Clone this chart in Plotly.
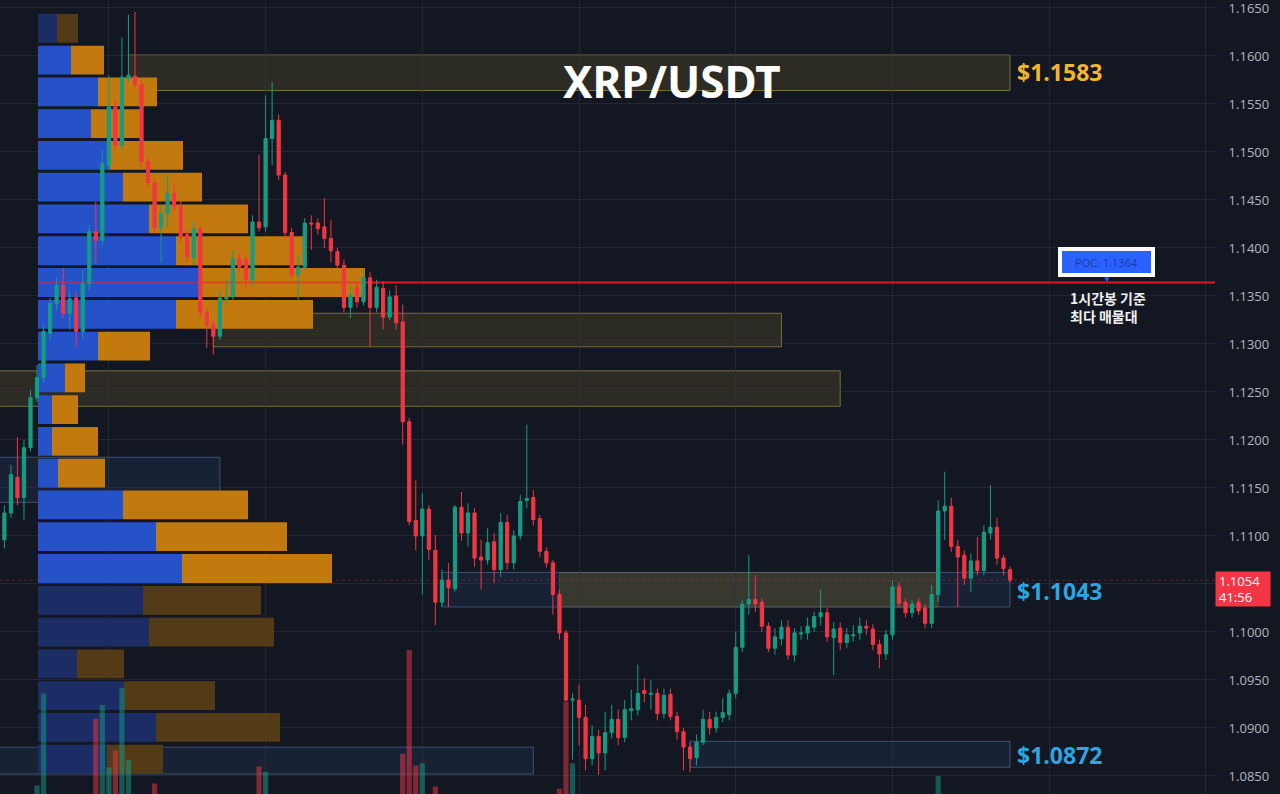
import plotly.graph_objects as go

# ---------------- data (1h candles, XRP/USDT) ----------------
OPEN = [1.1151, 1.1096, 1.1124, 1.1161, 1.1140, 1.1192, 1.1244, 1.1265, 1.1311, 1.1342, 1.1361, 1.1332,
        1.1348, 1.1313, 1.1363, 1.1417, 1.1408, 1.1486, 1.1547, 1.1507, 1.1577, 1.1579, 1.1570, 1.1490,
        1.1468, 1.1421, 1.1436, 1.1457, 1.1443, 1.1414, 1.1390, 1.1420, 1.1333, 1.1320, 1.1308, 1.1347,
        1.1349, 1.1389, 1.1388, 1.1367, 1.1427, 1.1422, 1.1514, 1.1533, 1.1476, 1.1416, 1.1372, 1.1380,
        1.1426, 1.1426, 1.1422, 1.1410, 1.1396, 1.1382, 1.1338, 1.1359, 1.1344, 1.1369, 1.1338, 1.1358,
        1.1328, 1.1350, 1.1323, 1.1219, 1.1116, 1.1100, 1.1128, 1.1085, 1.1031, 1.1054, 1.1045, 1.1130,
        1.1103, 1.1124, 1.1078, 1.1075, 1.1094, 1.1065, 1.1114, 1.1072, 1.1100, 1.1137, 1.1140, 1.1118,
        1.1084, 1.1072, 1.1039, 1.0999, 1.0929, 1.0929, 1.0911, 1.0868, 1.0891, 1.0874, 1.0895, 1.0909,
        1.0890, 1.0918, 1.0919, 1.0939, 1.0935, 1.0936, 1.0915, 1.0935, 1.0912, 1.0896, 1.0880, 1.0869,
        1.0885, 1.0909, 1.0900, 1.0911, 1.0914, 1.0936, 1.0984, 1.1029, 1.1034, 1.1031, 1.1006, 1.0983,
        1.0993, 1.1005, 1.0976, 1.0998, 1.0999, 1.1005, 1.1016, 1.1020, 1.0994, 1.1004, 1.0989, 1.0996,
        1.0999, 1.1006, 1.1003, 1.0987, 1.0977, 1.0997, 1.1047, 1.1031, 1.1020, 1.1031, 1.1025, 1.1009,
        1.1039, 1.1126, 1.1131, 1.1089, 1.1080, 1.1056, 1.1074, 1.1064, 1.1103, 1.1109, 1.1077, 1.1065]
HIGH = [1.1158, 1.1132, 1.1174, 1.1203, 1.1200, 1.1252, 1.1278, 1.1320, 1.1348, 1.1369, 1.1379, 1.1356,
        1.1354, 1.1377, 1.1424, 1.1448, 1.1502, 1.1580, 1.1554, 1.1619, 1.1643, 1.1646, 1.1575, 1.1494,
        1.1473, 1.1445, 1.1476, 1.1466, 1.1450, 1.1419, 1.1427, 1.1424, 1.1337, 1.1325, 1.1356, 1.1367,
        1.1398, 1.1395, 1.1393, 1.1434, 1.1497, 1.1559, 1.1573, 1.1539, 1.1479, 1.1421, 1.1393, 1.1431,
        1.1434, 1.1431, 1.1452, 1.1429, 1.1400, 1.1388, 1.1361, 1.1365, 1.1377, 1.1375, 1.1367, 1.1365,
        1.1356, 1.1361, 1.1341, 1.1223, 1.1158, 1.1145, 1.1132, 1.1101, 1.1065, 1.1072, 1.1132, 1.1146,
        1.1134, 1.1129, 1.1096, 1.1108, 1.1103, 1.1124, 1.1122, 1.1106, 1.1143, 1.1216, 1.1148, 1.1122,
        1.1088, 1.1075, 1.1044, 1.1002, 1.0936, 1.0945, 1.0924, 1.0903, 1.0898, 1.0917, 1.0924, 1.0919,
        1.0929, 1.0940, 1.0966, 1.0952, 1.0950, 1.0941, 1.0941, 1.0941, 1.0917, 1.0900, 1.0885, 1.0893,
        1.0919, 1.0917, 1.0917, 1.0931, 1.0940, 1.1000, 1.1033, 1.1080, 1.1059, 1.1035, 1.1010, 1.1004,
        1.1012, 1.1012, 1.1004, 1.1006, 1.1015, 1.1021, 1.1044, 1.1025, 1.1010, 1.1010, 1.1004, 1.1007,
        1.1015, 1.1012, 1.1008, 1.0992, 1.1002, 1.1054, 1.1052, 1.1035, 1.1033, 1.1035, 1.1029, 1.1049,
        1.1137, 1.1167, 1.1140, 1.1096, 1.1085, 1.1082, 1.1099, 1.1111, 1.1153, 1.1119, 1.1080, 1.1068]
LOW = [1.1091, 1.1087, 1.1119, 1.1132, 1.1117, 1.1188, 1.1240, 1.1260, 1.1304, 1.1335, 1.1327, 1.1315,
       1.1297, 1.1306, 1.1356, 1.1384, 1.1403, 1.1481, 1.1502, 1.1502, 1.1573, 1.1565, 1.1483, 1.1463,
       1.1417, 1.1385, 1.1422, 1.1438, 1.1406, 1.1385, 1.1382, 1.1327, 1.1296, 1.1289, 1.1304, 1.1341,
       1.1346, 1.1375, 1.1356, 1.1361, 1.1417, 1.1417, 1.1486, 1.1471, 1.1410, 1.1367, 1.1346, 1.1377,
       1.1398, 1.1414, 1.1400, 1.1385, 1.1379, 1.1333, 1.1327, 1.1338, 1.1340, 1.1297, 1.1333, 1.1315,
       1.1325, 1.1315, 1.1195, 1.1111, 1.1085, 1.1039, 1.1075, 1.1007, 1.1026, 1.1026, 1.1042, 1.1095,
       1.1089, 1.1068, 1.1044, 1.1070, 1.1051, 1.1057, 1.1065, 1.1065, 1.1096, 1.1129, 1.1111, 1.1078,
       1.1067, 1.1018, 1.0992, 1.0927, 1.0867, 1.0882, 1.0856, 1.0861, 1.0851, 1.0856, 1.0889, 1.0882,
       1.0885, 1.0908, 1.0913, 1.0927, 1.0919, 1.0908, 1.0910, 1.0908, 1.0888, 1.0856, 1.0854, 1.0861,
       1.0882, 1.0893, 1.0895, 1.0906, 1.0908, 1.0931, 1.0979, 1.1018, 1.1021, 1.1000, 1.0979, 1.0976,
       1.0986, 1.0971, 1.0969, 1.0992, 1.0992, 1.1000, 1.1007, 1.0990, 1.0955, 1.0981, 1.0983, 1.0990,
       1.0992, 1.0997, 1.0981, 1.0962, 1.0971, 1.0992, 1.1025, 1.1015, 1.1015, 1.1018, 1.1004, 1.1004,
       1.1031, 1.1096, 1.1083, 1.1026, 1.1049, 1.1042, 1.1059, 1.1059, 1.1096, 1.1070, 1.1059, 1.1051]
CLOSE = [1.1096, 1.1124, 1.1164, 1.1140, 1.1192, 1.1244, 1.1265, 1.1313, 1.1342, 1.1361, 1.1332, 1.1347,
         1.1313, 1.1363, 1.1417, 1.1408, 1.1488, 1.1547, 1.1507, 1.1578, 1.1580, 1.1570, 1.1490, 1.1468,
         1.1421, 1.1436, 1.1457, 1.1443, 1.1411, 1.1391, 1.1420, 1.1333, 1.1320, 1.1308, 1.1348, 1.1349,
         1.1389, 1.1380, 1.1367, 1.1427, 1.1421, 1.1514, 1.1533, 1.1476, 1.1416, 1.1372, 1.1380, 1.1426,
         1.1425, 1.1420, 1.1410, 1.1397, 1.1382, 1.1338, 1.1351, 1.1344, 1.1369, 1.1338, 1.1359, 1.1328,
         1.1349, 1.1322, 1.1219, 1.1115, 1.1100, 1.1128, 1.1086, 1.1031, 1.1054, 1.1046, 1.1130, 1.1103,
         1.1124, 1.1077, 1.1075, 1.1093, 1.1065, 1.1114, 1.1072, 1.1100, 1.1136, 1.1139, 1.1117, 1.1084,
         1.1072, 1.1039, 1.0999, 1.0929, 1.0930, 1.0911, 1.0868, 1.0891, 1.0874, 1.0895, 1.0909, 1.0890,
         1.0919, 1.0920, 1.0936, 1.0936, 1.0936, 1.0915, 1.0934, 1.0912, 1.0896, 1.0880, 1.0868, 1.0885,
         1.0909, 1.0900, 1.0911, 1.0916, 1.0936, 1.0984, 1.1029, 1.1034, 1.1029, 1.1006, 1.0983, 1.0995,
         1.1005, 1.0976, 1.0999, 1.0999, 1.1006, 1.1016, 1.1020, 1.0995, 1.1003, 1.0989, 1.0997, 1.0997,
         1.1006, 1.1004, 1.0987, 1.0977, 1.0997, 1.1047, 1.1030, 1.1020, 1.1029, 1.1022, 1.1009, 1.1039,
         1.1126, 1.1131, 1.1089, 1.1078, 1.1056, 1.1074, 1.1064, 1.1104, 1.1109, 1.1077, 1.1066, 1.1054]
VOLUME = [14, 11, 13, 9, 15, 17, 25.8, 34.5, 19, 16, 18, 12,
          15, 20, 21, 32.1, 33.4, 27.5, 29.1, 35.0, 28.2, 23, 22, 19,
          26.0, 17, 14, 12, 16, 15, 13, 21, 18, 20, 17, 10,
          14, 9, 12, 16, 27.6, 27.1, 22, 20, 21, 18, 8, 15,
          9, 10, 12, 13, 11, 19, 12, 11, 14, 13, 9, 12,
          10, 11, 28.8, 38.6, 27.7, 27.9, 24, 25.7, 14, 11, 22, 16,
          12, 18, 9, 11, 14, 17, 15, 12, 16, 13, 12, 15,
          11, 19, 25.5, 33.7, 27.9, 21, 23, 17, 15, 13, 11, 12,
          14, 9, 13, 8, 7, 11, 10, 9, 12, 14, 15, 13,
          12, 9, 8, 7, 11, 19, 22, 16, 10, 13, 14, 9,
          8, 12, 11, 6, 7, 9, 10, 12, 13, 11, 8, 6,
          8, 7, 9, 12, 11, 20, 13, 10, 8, 9, 11, 14,
          26.7, 16, 19, 14, 13, 11, 9, 15, 13, 14, 10, 9]
COUNTDOWN = "41:56"

# volume profile (price rows, buy / sell volume)
PROFILE_PRICE = [1.16288, 1.15957, 1.15626, 1.15295, 1.14964, 1.14633, 1.14302, 1.13971,
                 1.13640, 1.13309, 1.12978, 1.12647, 1.12316, 1.11985, 1.11654, 1.11323,
                 1.10992, 1.10661, 1.10330, 1.09999, 1.09668, 1.09337, 1.09006, 1.08675]
PROFILE_BUY = [1.9, 3.3, 6.0, 5.3, 7.2, 8.5, 11.1, 13.8, 16.2, 13.8, 6.0, 2.7,
               1.4, 1.4, 2.0, 8.5, 11.8, 14.4, 10.5, 11.1, 3.9, 8.6, 11.8, 6.9]
PROFILE_SELL = [2.1, 3.3, 5.9, 5.2, 7.3, 7.9, 9.9, 12.9, 16.5, 13.7, 5.2, 2.0,
                2.6, 4.6, 4.7, 12.5, 13.1, 15.0, 11.8, 12.5, 4.7, 9.1, 12.4, 5.6]
IN_VALUE_AREA = [False] + [True] * 17 + [False] * 6
POC_PRICE = 1.1364

# zones: start candle, end candle, top price, bottom price, kind
ZONE_START = [20, 33, -8, -8, -8, 68, 86, 106]
ZONE_END = [155, 120, 129, 34, 82, 155, 144, 155]
ZONE_TOP = [1.1601, 1.1332, 1.1272, 1.1182, 1.0880, 1.1062, 1.1062, 1.0886]
ZONE_BOTTOM = [1.1564, 1.1297, 1.1235, 1.1135, 1.0852, 1.1026, 1.1026, 1.0859]
ZONE_KIND = ["supply", "supply", "supply", "demand", "demand", "demand", "supply2", "demand"]

LEVEL_TEXT = ["$1.1583", "$1.1043", "$1.0872"]
LEVEL_PRICE = [1.1583, 1.1043, 1.0872]
LEVEL_KIND = ["supply", "demand", "demand"]

PRICE_TICKS = [1.0850, 1.0900, 1.0950, 1.1000, 1.1050, 1.1100, 1.1150, 1.1200, 1.1250,
               1.1300, 1.1350, 1.1400, 1.1450, 1.1500, 1.1550, 1.1600, 1.1650]

# ---------------- styling ----------------
BG = "#131722"
GRID = "rgba(48,53,66,0.55)"
UP = "#159d84"
DOWN = "#f23645"
idx = list(range(len(OPEN)))
LAST = CLOSE[-1]

fig = go.Figure()

# volume profile on main subplot (x = volume, y = price)
buy_col = ["#2652c9" if v else "#1c2d66" for v in IN_VALUE_AREA]
sell_col = ["#c27a0e" if v else "#533b18" for v in IN_VALUE_AREA]
fig.add_trace(go.Bar(x=PROFILE_BUY, y=PROFILE_PRICE, orientation="h", width=0.0030,
                     marker=dict(color=buy_col, line=dict(width=0)), xaxis="x", yaxis="y",
                     hoverinfo="skip"))
fig.add_trace(go.Bar(x=PROFILE_SELL, y=PROFILE_PRICE, base=PROFILE_BUY, orientation="h", width=0.0030,
                     marker=dict(color=sell_col, line=dict(width=0)), xaxis="x", yaxis="y",
                     hoverinfo="skip"))
poc_row = PROFILE_PRICE.index(POC_PRICE)
poc_len = PROFILE_BUY[poc_row] + PROFILE_SELL[poc_row]
fig.add_trace(go.Scatter(x=[0, poc_len], y=[POC_PRICE, POC_PRICE], mode="lines",
                         line=dict(color="rgba(235,30,40,0.55)", width=2), xaxis="x", yaxis="y",
                         hoverinfo="skip"))
fig.add_trace(go.Scatter(x=[poc_len, 1000], y=[POC_PRICE, POC_PRICE], mode="lines",
                         line=dict(color="#e3141d", width=2), xaxis="x", yaxis="y",
                         hoverinfo="skip"))

# candles
fig.add_trace(go.Candlestick(x=idx, open=OPEN, high=HIGH, low=LOW, close=CLOSE,
                             xaxis="x2", yaxis="y", whiskerwidth=0,
                             increasing=dict(line=dict(color=UP, width=1), fillcolor=UP),
                             decreasing=dict(line=dict(color=DOWN, width=1), fillcolor=DOWN),
                             hoverinfo="skip"))

# volume
vol_col = ["rgba(21,157,132,0.5)" if c >= o else "rgba(242,54,69,0.5)" for o, c in zip(OPEN, CLOSE)]
fig.add_trace(go.Bar(x=idx, y=VOLUME, width=0.8, marker=dict(color=vol_col, line=dict(width=0)),
                     xaxis="x2", yaxis="y2", hoverinfo="skip"))

# zones
ZONE_STYLE = {
    "supply": ("rgba(190,165,60,0.15)", "rgba(190,170,80,0.55)"),
    "supply2": ("rgba(120,100,40,0.85)", "rgba(190,170,80,0.55)"),
    "demand": ("rgba(70,110,180,0.13)", "rgba(95,125,175,0.55)"),
}
shapes = []
for s, e, t, b, k in zip(ZONE_START, ZONE_END, ZONE_TOP, ZONE_BOTTOM, ZONE_KIND):
    fc, lc = ZONE_STYLE[k]
    shapes.append(dict(type="rect", xref="x2", yref="y", x0=s, x1=e, y0=b, y1=t,
                       fillcolor=fc, line=dict(color=lc, width=1), layer="below",
                       opacity=0.4 if k == "supply2" else 1))
shapes.append(dict(type="line", xref="paper", yref="y", x0=0, x1=1, y0=LAST, y1=LAST,
                   line=dict(color="rgba(242,54,69,0.35)", width=1, dash="dot"), layer="below"))

annotations = []
annotations.append(dict(text="<b>XRP/USDT</b>", xref="paper", yref="paper", x=0.553, y=0.898,
                        xanchor="center", yanchor="middle", showarrow=False,
                        font=dict(size=44, color="#ffffff", family="Noto Sans")))
for txt, p, k in zip(LEVEL_TEXT, LEVEL_PRICE, LEVEL_KIND):
    annotations.append(dict(text="<b>%s</b>" % txt, xref="x2", yref="y", x=len(OPEN) - 1, y=p,
                            xanchor="left", yanchor="middle", xshift=5, showarrow=False,
                            font=dict(size=23, family="Open Sans",
                                      color="#f5b52c" if k == "supply" else "#2aa6e0")))
annotations.append(dict(text="POC: %.4f" % POC_PRICE, xref="paper", yref="y", x=0.911, y=POC_PRICE,
                        xanchor="center", yanchor="bottom", yshift=6, showarrow=False, bgcolor="#2962ff",
                        bordercolor="#ffffff", borderwidth=4, borderpad=2, width=85, height=18,
                        font=dict(size=11, color="#1b3aa0", family="Open Sans")))
annotations.append(dict(text="▼", xref="paper", yref="y", x=0.911, y=POC_PRICE, xanchor="center",
                        yanchor="bottom", yshift=-3, showarrow=False, font=dict(size=8, color="#2962ff")))
annotations.append(dict(text="<b>1시간봉 기준<br>최다 매물대</b>", xref="paper", yref="y", x=0.879, y=POC_PRICE,
                        xanchor="left", yanchor="top", yshift=-3, align="left", showarrow=False,
                        font=dict(size=14, color="#f0f0f0", family="Noto Sans CJK KR")))
annotations.append(dict(text="%.4f<br>%s" % (LAST, COUNTDOWN), xref="paper", yref="y", x=1.0, y=LAST,
                        xanchor="left", yanchor="top", yshift=9, align="left", showarrow=False,
                        bgcolor=DOWN, borderpad=3, width=48, height=28,
                        font=dict(size=13, color="#ffffff", family="Open Sans")))

# the tick under the live price tag is covered in the reference
tick_text = ["" if abs(t - LAST) < 0.0015 else "%.4f" % t for t in PRICE_TICKS]

fig.update_layout(
    width=1280, height=794,
    margin=dict(l=0, r=65, t=0, b=0),
    paper_bgcolor=BG, plot_bgcolor=BG,
    showlegend=False, hovermode=False, barmode="overlay",
    xaxis=dict(domain=[0, 1], range=[-3.8, 117.7], visible=False, fixedrange=True),
    xaxis2=dict(overlaying="x", anchor="y", range=[0.33, 186.39], showticklabels=False,
                showgrid=True, gridcolor=GRID, gridwidth=1, tickvals=list(range(17, 190, 24)),
                zeroline=False, showline=False, ticks="", rangeslider=dict(visible=False)),
    yaxis=dict(side="right", anchor="x", range=[1.08312, 1.16583], tickvals=PRICE_TICKS,
               ticktext=tick_text, showgrid=True, gridcolor=GRID, zeroline=False, showline=False,
               ticks="outside", ticklen=10, tickcolor=BG, automargin=False,
               ticklabeloverflow="allow",
               tickfont=dict(size=13, color="#b2b5be", family="Open Sans")),
    yaxis2=dict(overlaying="y", range=[25, 100], visible=False),
    shapes=shapes, annotations=annotations,
)

fig.write_html("out.html", config={"displayModeBar": False},
               post_script="document.body.style.margin='0';")
